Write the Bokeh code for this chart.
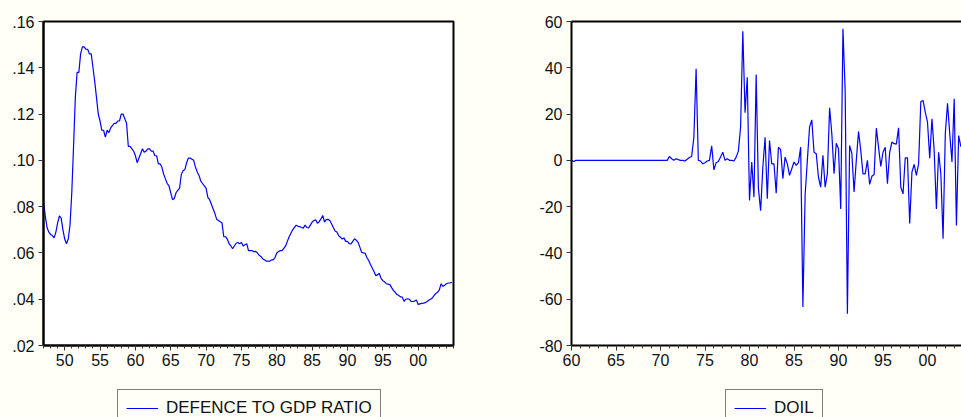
from bokeh.plotting import figure
from bokeh.models import FixedTicker, Legend, LegendItem, LinearAxis, Range1d
from bokeh.layouts import row, column
from bokeh.embed import file_html
from bokeh.resources import INLINE

# ---------------- data ----------------
defence_start = 1947.0   # quarterly, 1947Q1 ...
defence_ratio = [
    .082, .076, .071, .069,      # 1947
    .068, .0675, .0665, .069,    # 1948
    .073, .076, .075, .070,      # 1949
    .066, .064, .066, .072,      # 1950
    .086, .106, .127, .138,      # 1951
    .138, .146, .149, .149,      # 1952
    .148, .148, .146, .146,      # 1953
    .140, .134, .127, .120,      # 1954
    .117, .113, .113, .110,      # 1955
    .113, .112, .114, .115,      # 1956
    .116, .116, .117, .117,      # 1957
    .120, .120, .118, .116,      # 1958
    .106, .106, .105, .104,      # 1959
    .102, .099, .101, .103,      # 1960
    .105, .1035, .104, .105,     # 1961
    .105, .104, .104, .102,      # 1962
    .102, .0985, .0985, .097,    # 1963
    .094, .092, .090, .089,      # 1964
    .086, .083, .0835, .086,     # 1965
    .087, .088, .094, .0955,     # 1966
    .096, .099, .101, .101,      # 1967
    .1005, .100, .097, .095,     # 1968
    .0935, .091, .090, .089,     # 1969
    .088, .084, .083, .081,      # 1970
    .079, .077, .0745, .074,     # 1971
    .0735, .073, .067, .067,     # 1972
    .066, .064, .063, .0618,     # 1973
    .063, .0642, .0645, .064,    # 1974
    .0645, .063, .0635, .064,    # 1975
    .061, .061, .061, .0605,     # 1976
    .0607, .060, .059, .0585,    # 1977
    .0575, .057, .0565, .0565,   # 1978
    .0564, .057, .057, .058,     # 1979
    .060, .0606, .061, .061,     # 1980
    .062, .063, .065, .067,      # 1981
    .0685, .070, .071, .072,     # 1982
    .0715, .0714, .071, .0707,   # 1983
    .072, .071, .0708, .072,     # 1984
    .0733, .074, .0743, .0728,   # 1985
    .0735, .0747, .0762, .0733,  # 1986
    .0744, .0745, .074, .0726,   # 1987
    .071, .0695, .069, .0675,    # 1988
    .0668, .066, .0665, .065,    # 1989
    .065, .064, .0639, .065,     # 1990
    .0661, .0655, .0646, .0625,  # 1991
    .0603, .060, .0599, .058,    # 1992
    .0567, .055, .0535, .052,    # 1993
    .0502, .0505, .0512, .049,   # 1994
    .048, .0475, .0467, .0465,   # 1995
    .0463, .045, .0438, .043,    # 1996
    .042, .0416, .041, .0409,    # 1997
    .0391, .040, .0402, .040,    # 1998
    .0391, .039, .0392, .0397,   # 1999
    .0377, .038, .0382, .0383,   # 2000
    .0385, .039, .0395, .040,    # 2001
    .0405, .0416, .0425, .043,   # 2002
    .044, .0467, .0455, .046,    # 2003
    .0467, .047, .047, .0473,    # 2004
]

doil_start = 1960.0      # quarterly, 1960Q1 ...
doil = [
    0, -0.5, 0, 0,               # 1960
    0, 0, 0, 0,                  # 1961
    0, 0, 0, 0,                  # 1962
    0, 0, 0, 0,                  # 1963
    0, 0, 0, 0,                  # 1964
    0, 0, 0, 0,                  # 1965
    0, 0, 0, 0,                  # 1966
    0, 0, 0, 0,                  # 1967
    0, 0, 0, 0,                  # 1968
    0, 0, 0, 0,                  # 1969
    0, 0, 0, 0,                  # 1970
    1.7, 0.7, 0, 0.7,            # 1971
    0.3, 0, 0, -0.3,             # 1972
    0.5, 1.2, 1.7, 10,           # 1973
    39.6, 0, -0.3, -1.5,         # 1974
    -1, -0.3, 0, 6.3,            # 1975
    -4.1, -1, -0.5, 1.5,         # 1976
    3.5, 0, 0.7, 0,              # 1977
    0, -0.3, 1.4, 4,             # 1978
    14.4, 55.8, 20.6, 35.9,      # 1979
    -17.3, -0.7, -15.9, 37.1,    # 1980
    -12, -21.8, -3, 10,          # 1981
    -16.6, 8.6, -1.5, -1.5,      # 1982
    -14.2, 5.7, 4.6, -7.9,       # 1983
    1.4, -1.5, -6.5, -3.6,       # 1984
    -0.7, -2.2, -1, 5.7,         # 1985
    -63.4, -15, 0, 14.4,         # 1986
    17.5, 3.5, 2.9, -7.3,        # 1987
    -11.6, 2.2, -11.6, -5.8,     # 1988
    22.7, 11.5, -5.8, 7.4,       # 1989
    5, -21, 56.9, 30,            # 1990
    -66.3, 6.4, 3.1, -13.7,      # 1991
    0, 12.5, 4.3, -5.8,          # 1992
    -5.8, 0, -10.4, -6.9,        # 1993
    -6.1, 13.9, 5.7, -2.6,       # 1994
    3.5, 5.7, -10.1, 3.5,        # 1995
    7.9, 7.2, 7, 14.1,           # 1996
    -11.6, -14.5, 1.1, 1.1,      # 1997
    -27.3, -5.1, -1.7, -6.5,     # 1998
    -1.5, 25.4, 25.9, 20.8,      # 1999
    16.5, 0.9, 18, 4.3,          # 2000
    -21, 3.5, -5.8, -33.9,       # 2001
    11.5, 24.7, 11.5, -0.7,      # 2002
    26.6, -28.1, 10.7, 5.9,      # 2003
]

left_y_ticks = [0.02, 0.04, 0.06, 0.08, 0.10, 0.12, 0.14, 0.16]
left_y_labels = [".02", ".04", ".06", ".08", ".10", ".12", ".14", ".16"]
left_x_ticks = [1950, 1955, 1960, 1965, 1970, 1975, 1980, 1985, 1990, 1995, 2000]
left_x_labels = ["50", "55", "60", "65", "70", "75", "80", "85", "90", "95", "00"]
right_y_ticks = [-80, -60, -40, -20, 0, 20, 40, 60]
right_y_labels = ["-80", "-60", "-40", "-20", "0", "20", "40", "60"]
right_x_ticks = [1960, 1965, 1970, 1975, 1980, 1985, 1990, 1995, 2000]
right_x_labels = ["60", "65", "70", "75", "80", "85", "90", "95", "00"]

left_name = "DEFENCE TO GDP RATIO"
right_name = "DOIL"

# ---------------- style ----------------
PAGE_BG = "#fffff8"
LINE = "#0000ff"
FONT = "Liberation Sans"
H_MAIN = 373          # frame bottom at 345
H_LEG = 417 - H_MAIN


def style_axis(ax, size="16px"):
    ax.axis_line_color = "black"
    ax.axis_line_width = 2
    ax.major_tick_line_color = "#333333"
    ax.minor_tick_line_color = "#333333"
    ax.major_tick_in = 0
    ax.minor_tick_in = 0
    ax.major_label_text_font = FONT
    ax.major_label_text_font_size = size
    ax.major_label_text_color = "#111111"


def make_panel(x, y, x0, x1, y0, y1, xt, xl, yt, yl, width, bl, br, show_right):
    p = figure(width=width, height=H_MAIN, output_backend="svg", toolbar_location=None,
               x_range=Range1d(x0, x1), y_range=Range1d(y0, y1),
               min_border_left=bl, min_border_right=br, min_border_top=21,
               min_border_bottom=H_MAIN - 345, x_axis_location=None, y_axis_location=None)
    p.background_fill_color = "white"
    p.border_fill_color = PAGE_BG
    p.xgrid.visible = False
    p.ygrid.visible = False
    if show_right:
        p.outline_line_color = "black"
        p.outline_line_width = 2
    else:
        p.outline_line_color = None

    xa = LinearAxis(ticker=FixedTicker(ticks=xt, minor_ticks=list(range(int(x0), int(x1) + 1))),
                    major_label_overrides={t: s for t, s in zip(xt, xl)})
    style_axis(xa)
    xa.major_tick_out = 5
    xa.minor_tick_out = 3
    xa.major_label_standoff = 3
    p.add_layout(xa, "below")

    ya = LinearAxis(ticker=FixedTicker(ticks=yt, minor_ticks=[]),
                    major_label_overrides={t: s for t, s in zip(yt, yl)})
    style_axis(ya)
    ya.major_tick_out = 5
    ya.major_label_standoff = 4
    p.add_layout(ya, "left")

    if not show_right:
        top = LinearAxis(ticker=FixedTicker(ticks=[]), major_label_text_font_size="0px",
                         axis_line_width=2, axis_line_color="black",
                         major_tick_line_color=None, minor_tick_line_color=None)
        p.add_layout(top, "above")

    p.line(x, y, line_color=LINE, line_width=1.2)
    return p


xl_vals = [defence_start + i / 4 for i in range(len(defence_ratio))]
xr_vals = [doil_start + i / 4 for i in range(len(doil))]

p1 = make_panel(xl_vals, defence_ratio, 1947, 2005, 0.02, 0.16,
                left_x_ticks, left_x_labels, left_y_ticks, left_y_labels,
                width=480, bl=43, br=27, show_right=True)

p2 = make_panel(xr_vals, doil, 1960, 1960 + 390 / 8.9, -80, 60,
                right_x_ticks, right_x_labels, right_y_ticks, right_y_labels,
                width=481, bl=91, br=0, show_right=False)

# legend strip below the two panels (legend proxies carry no visible data)
strip = figure(width=961, height=H_LEG, output_backend="svg", toolbar_location=None,
               x_range=Range1d(0, 961), y_range=Range1d(0, H_LEG),
               min_border=0, x_axis_location=None, y_axis_location=None)
strip.background_fill_color = PAGE_BG
strip.border_fill_color = PAGE_BG
strip.outline_line_color = None
strip.xgrid.visible = False
strip.ygrid.visible = False

nan = float("nan")
for name, lx in [(left_name, 117), (right_name, 725)]:
    r = strip.line([nan], [nan], line_color=LINE, line_width=1.2)
    leg = Legend(items=[LegendItem(label=name, renderers=[r])],
                 location=(lx, H_LEG - 18 - 36), orientation="horizontal",
                 label_text_font=FONT, label_text_font_size="17px",
                 label_text_color="#111111",
                 glyph_width=32, glyph_height=20, label_height=20,
                 label_standoff=8, padding=8, spacing=0, margin=0,
                 border_line_color="black", border_line_width=1,
                 background_fill_color=PAGE_BG, background_fill_alpha=1.0)
    strip.add_layout(leg, "center")

layout = column(row(p1, p2), strip)
layout.styles = {"background-color": PAGE_BG}

with open("out.html", "w") as f:
    f.write(file_html(layout, INLINE))
